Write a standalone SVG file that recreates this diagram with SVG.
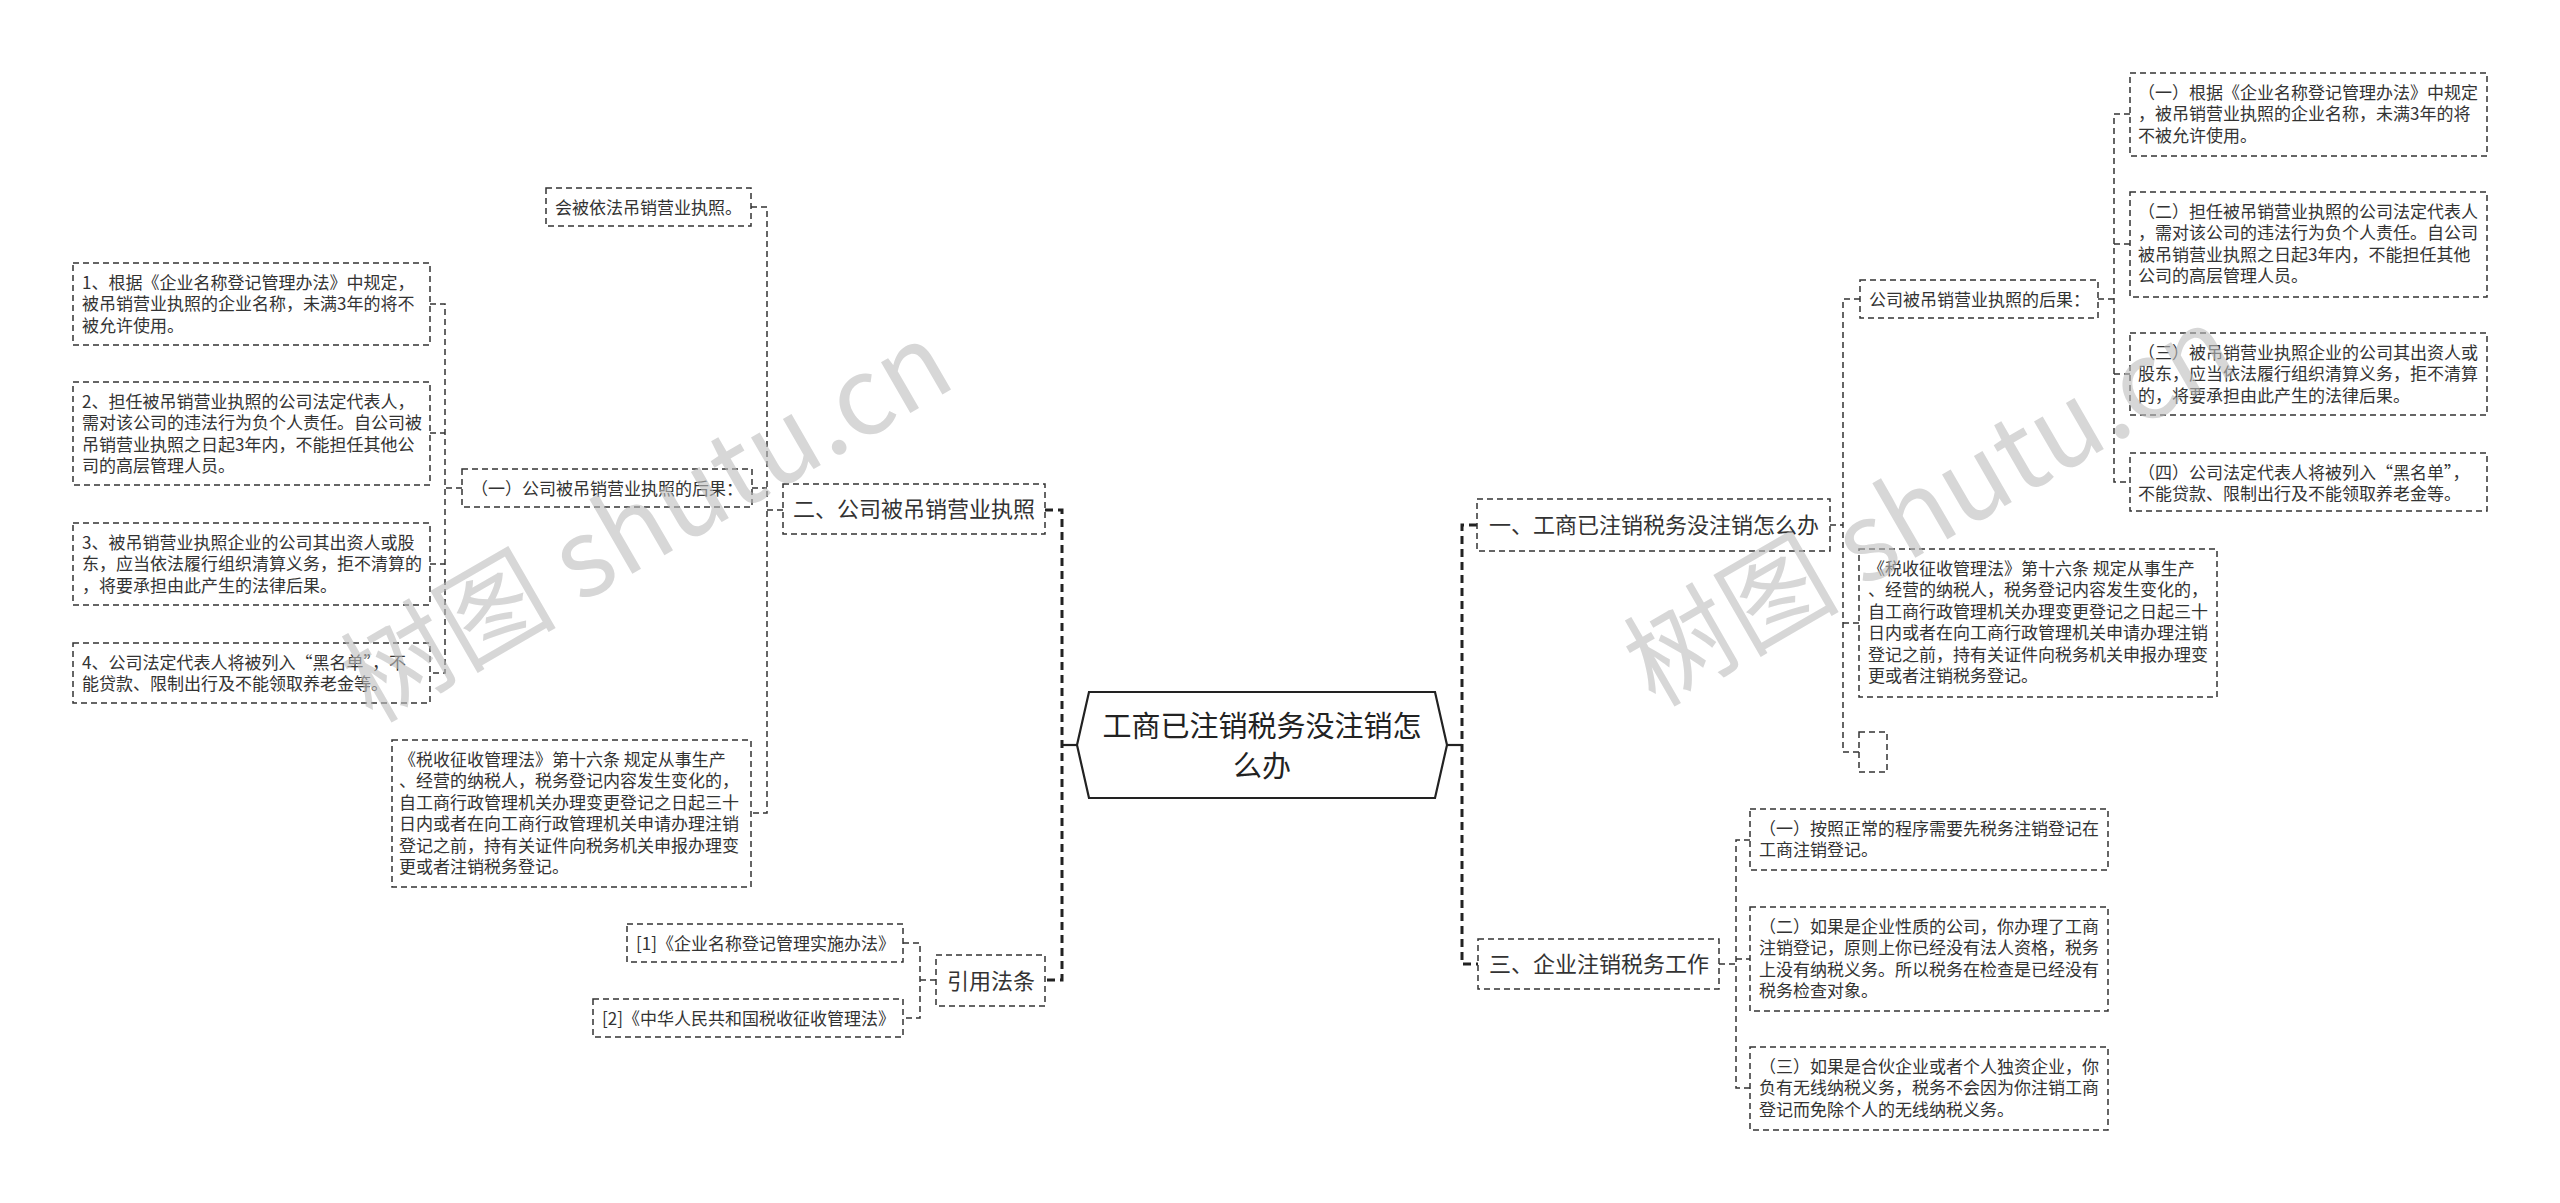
<svg xmlns="http://www.w3.org/2000/svg" width="2560" height="1203" viewBox="0 0 2560 1203">
<style>
.bg{fill:#fff}
.box{fill:#fff;stroke:#333;stroke-width:1.5;stroke-dasharray:6 4}
.hex{fill:#fff;stroke:#222;stroke-width:2.2}
.t{font-family:"Noto Sans CJK SC","Microsoft YaHei",sans-serif;font-size:17px;fill:#333}
.t22{font-family:"Noto Sans CJK SC","Microsoft YaHei",sans-serif;font-size:22px;fill:#333}
.tc{font-family:"Noto Sans CJK SC","Microsoft YaHei",sans-serif;font-size:29px;fill:#222;text-anchor:middle}
.e{fill:none;stroke:#333;stroke-width:1.5;stroke-dasharray:6 4}
.tr{fill:none;stroke:#222;stroke-width:3;stroke-dasharray:8 5}
.s{fill:none;stroke:#222;stroke-width:2.2}
.wm{font-family:"Noto Sans CJK SC","DejaVu Sans",sans-serif;font-size:108px;fill:#bdbdbd;opacity:0.6}
</style>
<rect class="bg" x="0" y="0" width="2560" height="1203"/>

<g id="connectors">
  <path class="tr" d="M1045 510 H1062 V980 H1045"/>
  <path class="s" d="M1062 745 H1077"/>
  <path class="tr" d="M1477 525 H1462 V964 H1478"/>
  <path class="s" d="M1447 745 H1462"/>
  <path class="e" d="M783 510 H767"/>
  <path class="e" d="M751 207 H767 V813 H751"/>
  <path class="e" d="M752 488 H767"/>
  <path class="e" d="M462 488 H445"/>
  <path class="e" d="M430 304 H445 V673 H430"/>
  <path class="e" d="M430 433 H445"/>
  <path class="e" d="M430 564 H445"/>
  <path class="e" d="M936 980 H920"/>
  <path class="e" d="M903 943 H920 V1018 H903"/>
  <path class="e" d="M1830 525 H1843"/>
  <path class="e" d="M1860 299 H1843 V752 H1859"/>
  <path class="e" d="M1843 623 H1859"/>
  <path class="e" d="M2098 299 H2114"/>
  <path class="e" d="M2130 114 H2114 V482 H2130"/>
  <path class="e" d="M2114 244 H2130"/>
  <path class="e" d="M2114 374 H2130"/>
  <path class="e" d="M1719 964 H1736"/>
  <path class="e" d="M1750 840 H1736 V1088 H1750"/>
  <path class="e" d="M1736 959 H1750"/>
</g>

<g id="root">
  <polygon class="hex" points="1077,745 1089,692 1435,692 1447,745 1435,798 1089,798"/>
  <text class="tc" x="1262" y="737">工商已注销税务没注销怎</text>
  <text class="tc" x="1262" y="777">么办</text>
</g>

<g id="n-er">
  <rect class="box" x="783" y="484" width="262" height="50"/>
  <text class="t22" x="793" y="517">二、公司被吊销营业执照</text>
</g>
<g id="n-er-a">
  <rect class="box" x="546" y="188" width="205" height="38"/>
  <text class="t" x="555" y="213.5">会被依法吊销营业执照。</text>
</g>
<g id="n-er-b">
  <rect class="box" x="462" y="469" width="290" height="38"/>
  <text class="t" x="471" y="494.5">（一）公司被吊销营业执照的后果：</text>
</g>
<g id="n-er-b1">
  <rect class="box" x="73" y="263" width="357" height="82"/>
  <text class="t" x="82" y="288.5">1、根据《企业名称登记管理办法》中规定，</text>
  <text class="t" x="82" y="310">被吊销营业执照的企业名称，未满3年的将不</text>
  <text class="t" x="82" y="331.5">被允许使用。</text>
</g>
<g id="n-er-b2">
  <rect class="box" x="73" y="382" width="357" height="103"/>
  <text class="t" x="82" y="407.5">2、担任被吊销营业执照的公司法定代表人，</text>
  <text class="t" x="82" y="429">需对该公司的违法行为负个人责任。自公司被</text>
  <text class="t" x="82" y="450.5">吊销营业执照之日起3年内，不能担任其他公</text>
  <text class="t" x="82" y="472">司的高层管理人员。</text>
</g>
<g id="n-er-b3">
  <rect class="box" x="73" y="523" width="357" height="82"/>
  <text class="t" x="82" y="548.5">3、被吊销营业执照企业的公司其出资人或股</text>
  <text class="t" x="82" y="570">东，应当依法履行组织清算义务，拒不清算的</text>
  <text class="t" x="82" y="591.5">，将要承担由此产生的法律后果。</text>
</g>
<g id="n-er-b4">
  <rect class="box" x="73" y="643" width="357" height="60"/>
  <text class="t" x="82" y="668.5">4、公司法定代表人将被列入“黑名单”，不</text>
  <text class="t" x="82" y="690">能贷款、限制出行及不能领取养老金等。</text>
</g>
<g id="n-er-c">
  <rect class="box" x="392" y="740" width="359" height="147"/>
  <text class="t" x="399" y="765.5">《税收征收管理法》第十六条 规定从事生产</text>
  <text class="t" x="399" y="787">、经营的纳税人，税务登记内容发生变化的，</text>
  <text class="t" x="399" y="808.5">自工商行政管理机关办理变更登记之日起三十</text>
  <text class="t" x="399" y="830">日内或者在向工商行政管理机关申请办理注销</text>
  <text class="t" x="399" y="851.5">登记之前，持有关证件向税务机关申报办理变</text>
  <text class="t" x="399" y="873">更或者注销税务登记。</text>
</g>

<g id="n-ref">
  <rect class="box" x="936" y="955" width="109" height="51"/>
  <text class="t22" x="947" y="988.5">引用法条</text>
</g>
<g id="n-ref-1">
  <rect class="box" x="627" y="924" width="276" height="38"/>
  <text class="t" x="636" y="949.5">[1]《企业名称登记管理实施办法》</text>
</g>
<g id="n-ref-2">
  <rect class="box" x="593" y="999" width="310" height="38"/>
  <text class="t" x="602" y="1024.5">[2]《中华人民共和国税收征收管理法》</text>
</g>

<g id="n-yi">
  <rect class="box" x="1477" y="499" width="353" height="52"/>
  <text class="t22" x="1489" y="533">一、工商已注销税务没注销怎么办</text>
</g>
<g id="n-yi-a">
  <rect class="box" x="1860" y="280" width="238" height="38"/>
  <text class="t" x="1869" y="305.5">公司被吊销营业执照的后果：</text>
</g>
<g id="n-yi-a1">
  <rect class="box" x="2130" y="73" width="357" height="83"/>
  <text class="t" x="2138" y="98.5">（一）根据《企业名称登记管理办法》中规定</text>
  <text class="t" x="2138" y="120">，被吊销营业执照的企业名称，未满3年的将</text>
  <text class="t" x="2138" y="141.5">不被允许使用。</text>
</g>
<g id="n-yi-a2">
  <rect class="box" x="2130" y="192" width="357" height="105"/>
  <text class="t" x="2138" y="217.5">（二）担任被吊销营业执照的公司法定代表人</text>
  <text class="t" x="2138" y="239">，需对该公司的违法行为负个人责任。自公司</text>
  <text class="t" x="2138" y="260.5">被吊销营业执照之日起3年内，不能担任其他</text>
  <text class="t" x="2138" y="282">公司的高层管理人员。</text>
</g>
<g id="n-yi-a3">
  <rect class="box" x="2130" y="333" width="357" height="82"/>
  <text class="t" x="2138" y="358.5">（三）被吊销营业执照企业的公司其出资人或</text>
  <text class="t" x="2138" y="380">股东，应当依法履行组织清算义务，拒不清算</text>
  <text class="t" x="2138" y="401.5">的，将要承担由此产生的法律后果。</text>
</g>
<g id="n-yi-a4">
  <rect class="box" x="2130" y="453" width="357" height="58"/>
  <text class="t" x="2138" y="478.5">（四）公司法定代表人将被列入“黑名单”，</text>
  <text class="t" x="2138" y="500">不能贷款、限制出行及不能领取养老金等。</text>
</g>
<g id="n-yi-b">
  <rect class="box" x="1859" y="549" width="358" height="148"/>
  <text class="t" x="1868" y="574.5">《税收征收管理法》第十六条 规定从事生产</text>
  <text class="t" x="1868" y="596">、经营的纳税人，税务登记内容发生变化的，</text>
  <text class="t" x="1868" y="617.5">自工商行政管理机关办理变更登记之日起三十</text>
  <text class="t" x="1868" y="639">日内或者在向工商行政管理机关申请办理注销</text>
  <text class="t" x="1868" y="660.5">登记之前，持有关证件向税务机关申报办理变</text>
  <text class="t" x="1868" y="682">更或者注销税务登记。</text>
</g>
<g id="n-yi-c">
  <rect class="box" x="1859" y="732" width="28" height="40"/>
</g>

<g id="n-san">
  <rect class="box" x="1478" y="939" width="241" height="50"/>
  <text class="t22" x="1489" y="972">三、企业注销税务工作</text>
</g>
<g id="n-san-1">
  <rect class="box" x="1750" y="809" width="358" height="61"/>
  <text class="t" x="1759" y="834.5">（一）按照正常的程序需要先税务注销登记在</text>
  <text class="t" x="1759" y="856">工商注销登记。</text>
</g>
<g id="n-san-2">
  <rect class="box" x="1750" y="907" width="358" height="104"/>
  <text class="t" x="1759" y="932.5">（二）如果是企业性质的公司，你办理了工商</text>
  <text class="t" x="1759" y="954">注销登记，原则上你已经没有法人资格，税务</text>
  <text class="t" x="1759" y="975.5">上没有纳税义务。所以税务在检查是已经没有</text>
  <text class="t" x="1759" y="997">税务检查对象。</text>
</g>
<g id="n-san-3">
  <rect class="box" x="1750" y="1047" width="358" height="83"/>
  <text class="t" x="1759" y="1072.5">（三）如果是合伙企业或者个人独资企业，你</text>
  <text class="t" x="1759" y="1094">负有无线纳税义务，税务不会因为你注销工商</text>
  <text class="t" x="1759" y="1115.5">登记而免除个人的无线纳税义务。</text>
</g>

<g id="watermark">
  <text class="wm" transform="translate(372,724) rotate(-30)">树图 shutu.cn</text>
  <text class="wm" transform="translate(1655,708) rotate(-30)">树图 shutu.cn</text>
</g>
</svg>
